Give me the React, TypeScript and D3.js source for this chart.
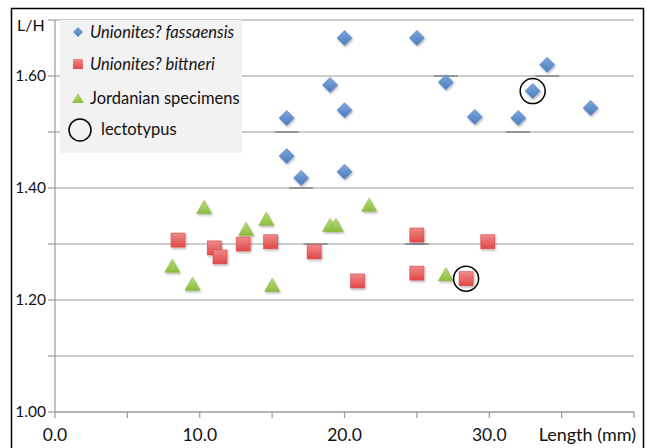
import React from 'react';
import * as d3 from 'd3';

// Unionites? fassaensis
const fassaensisLength = [16, 16, 17, 19, 20, 20, 20, 25, 27, 29, 32, 33, 34, 37];
const fassaensisLH = [1.525, 1.457, 1.418, 1.584, 1.668, 1.539, 1.429, 1.668, 1.589, 1.527, 1.525, 1.573, 1.62, 1.543];

// Unionites? bittneri
const bittneriLength = [8.5, 11.0, 11.4, 13.0, 14.9, 17.9, 20.9, 25.0, 25.0, 28.4, 29.9];
const bittneriLH = [1.307, 1.293, 1.277, 1.3, 1.304, 1.286, 1.234, 1.316, 1.248, 1.238, 1.304];

// Jordanian specimens
const jordanLength = [8.1, 9.5, 10.3, 13.2, 14.6, 15.0, 19.0, 19.4, 21.7, 27.0];
const jordanLH = [1.261, 1.229, 1.366, 1.327, 1.345, 1.227, 1.334, 1.334, 1.37, 1.246];

// dash marks sitting on gridlines
const dashLength = [16, 17, 18, 25, 27, 32, 34];
const dashLH = [1.5, 1.4, 1.3, 1.3, 1.6, 1.5, 1.6];

// lectotypes (circled)
const lectoLength = [33, 28.4];
const lectoLH = [1.573, 1.238];

const xTicks = [0, 10, 20, 30];
const xMinorTicks = [0, 5, 10, 15, 20, 25, 30, 35, 40];
const yLabels = [1.0, 1.2, 1.4, 1.6];
const yGrid = [1.0, 1.1, 1.2, 1.3, 1.4, 1.5, 1.6, 1.7];

const FONT = 'Lato, "Open Sans", sans-serif';

export default function App() {
  const x = d3.scaleLinear().domain([0, 40]).range([55, 634]);
  const y = d3.scaleLinear().domain([1.0, 1.7]).range([412, 20]);

  const diamond = (cx: number, cy: number, r: number) =>
    `M${cx},${cy - r}L${cx + r},${cy}L${cx},${cy + r}L${cx - r},${cy}Z`;
  const triangle = (cx: number, cy: number, w: number, h: number) =>
    `M${cx},${cy - h / 2}L${cx + w / 2},${cy + h / 2}L${cx - w / 2},${cy + h / 2}Z`;

  return (
    <svg width={646} height={448} style={{ position: 'absolute', left: 0, top: 0, background: '#fff' }} fontFamily={FONT}>
      <defs>
        <linearGradient id="gBlue" x1="0" y1="0" x2="0" y2="1">
          <stop offset="0" stopColor="#7fa8dc" />
          <stop offset="1" stopColor="#4a7cc0" />
        </linearGradient>
        <linearGradient id="gRed" x1="0" y1="0" x2="0" y2="1">
          <stop offset="0" stopColor="#f08a8a" />
          <stop offset="1" stopColor="#e04848" />
        </linearGradient>
        <linearGradient id="gGreen" x1="0" y1="0" x2="0" y2="1">
          <stop offset="0" stopColor="#b9dc7a" />
          <stop offset="1" stopColor="#8cbd3e" />
        </linearGradient>
        <filter id="shadow" x="-50%" y="-50%" width="200%" height="200%">
          <feDropShadow dx="1" dy="1.5" stdDeviation="1" floodColor="#000" floodOpacity="0.3" />
        </filter>
      </defs>

      {/* gridlines */}
      {yGrid.map(v => (
        <line key={v} x1={55} x2={634} y1={y(v)} y2={y(v)} stroke={v === 1.0 ? '#9a9a9a' : '#bdbdbd'} strokeWidth={1.4} />
      ))}
      {/* y axis */}
      <line x1={55} x2={55} y1={y(1.7)} y2={y(1.0)} stroke="#9a9a9a" strokeWidth={1.2} />
      {yGrid.map(v => (
        <line key={'yt' + v} x1={48} x2={55} y1={y(v)} y2={y(v)} stroke="#9a9a9a" strokeWidth={1.2} />
      ))}
      {yLabels.map(v => (
        <text key={'yl' + v} x={46} y={y(v)} dy="0.35em" textAnchor="end" fontSize={15.5} fill="#111">
          {v.toFixed(2)}
        </text>
      ))}
      {xMinorTicks.map(v => (
        <line key={'xt' + v} x1={x(v)} x2={x(v)} y1={412} y2={418} stroke="#9a9a9a" strokeWidth={1.2} />
      ))}
      {xTicks.map(v => (
        <text key={'xl' + v} x={x(v)} y={441} textAnchor="middle" fontSize={17.5} fill="#111">
          {v.toFixed(1)}
        </text>
      ))}
      <text x={636} y={441} textAnchor="end" fontSize={18} fill="#111">Length (mm)</text>
      <text x={17} y={31} fontSize={16} fill="#111">L/H</text>

      {/* legend box */}
      <rect x={60} y={20} width={182} height={133} fill="#f2f2f2" />
      <path d={diamond(78, 32, 5)} fill="url(#gBlue)" />
      <text x={90} y={32} dy="0.35em" fontSize={16.5} fontStyle="italic" fill="#111">Unionites? fassaensis</text>
      <rect x={73} y={59} width={10} height={10} fill="url(#gRed)" />
      <text x={90} y={64} dy="0.35em" fontSize={16.5} fontStyle="italic" fill="#111">Unionites? bittneri</text>
      <path d={triangle(78, 98, 12, 10)} fill="url(#gGreen)" />
      <text x={90} y={98} dy="0.35em" fontSize={16.5} fill="#111">Jordanian specimens</text>
      <circle cx={80} cy={130} r={11} fill="none" stroke="#000" strokeWidth={1.5} />
      <text x={101} y={129} dy="0.35em" fontSize={16.5} fill="#111">lectotypus</text>

      {/* dash marks */}
      {dashLength.map((v, i) => (
        <line key={'d' + i} x1={x(v) - 12} x2={x(v) + 12} y1={y(dashLH[i])} y2={y(dashLH[i])} stroke="#969696" strokeWidth={2} />
      ))}

      {/* series */}
      <g filter="url(#shadow)">
        {jordanLength.map((v, i) => (
          <path key={'j' + i} d={triangle(x(v), y(jordanLH[i]), 15, 13)} fill="url(#gGreen)" stroke="#86b33c" strokeWidth={0.6} />
        ))}
        {bittneriLength.map((v, i) => (
          <rect key={'b' + i} x={x(v) - 7} y={y(bittneriLH[i]) - 7} width={14} height={14} fill="url(#gRed)" stroke="#d94848" strokeWidth={0.6} />
        ))}
        {fassaensisLength.map((v, i) => (
          <path key={'f' + i} d={diamond(x(v), y(fassaensisLH[i]), 7.5)} fill="url(#gBlue)" stroke="#4a7cc0" strokeWidth={0.6} />
        ))}
      </g>
      {lectoLength.map((v, i) => (
        <circle key={'l' + i} cx={x(v)} cy={y(lectoLH[i])} r={12.5} fill="none" stroke="#000" strokeWidth={1.5} />
      ))}

      {/* frame */}
      <rect x={11.5} y={8.5} width={632} height={460} fill="none" stroke="#000" strokeWidth={1.5} />
    </svg>
  );
}
